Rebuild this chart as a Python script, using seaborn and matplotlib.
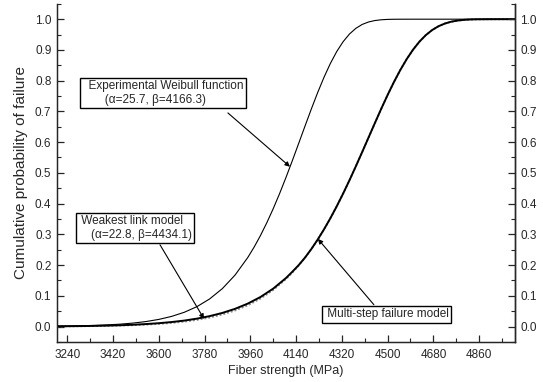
import matplotlib
matplotlib.use("Agg")
import matplotlib.pyplot as plt
import seaborn as sns
import pandas as pd
from matplotlib.ticker import MultipleLocator

# Experimental Weibull function (alpha=25.7, beta=4166.3): strength (MPa) and probability
exp_strength = [3200, 3250, 3300, 3350, 3400, 3450, 3500, 3550, 3600, 3650,
                3700, 3750, 3800, 3850, 3900, 3950, 3975, 4000, 4025, 4050,
                4075, 4100, 4125, 4150, 4175, 4200, 4225, 4250, 4275, 4300,
                4325, 4350, 4375, 4400, 4425, 4450, 4475, 4500, 4525, 4550,
                4600, 4650, 4700, 4750, 4800, 4850, 4900, 4950, 5000]
experimental = [0.0011, 0.0017, 0.0025, 0.0037, 0.0054, 0.0078, 0.0113, 0.0162, 0.0231, 0.0328,
                0.0462, 0.0646, 0.0897, 0.1232, 0.1673, 0.2244, 0.2583, 0.2960, 0.3377, 0.3831,
                0.4321, 0.4843, 0.5389, 0.5951, 0.6518, 0.7077, 0.7613, 0.8112, 0.8561, 0.8948,
                0.9267, 0.9517, 0.9702, 0.9829, 0.9909, 0.9956, 0.9981, 0.9993, 0.9998, 0.9999,
                1.0, 1.0, 1.0, 1.0, 1.0, 1.0, 1.0, 1.0, 1.0]

# Model curves: strength (MPa)
model_strength = [3200, 3250, 3300, 3350, 3400, 3450, 3500, 3550, 3600, 3650,
                  3700, 3750, 3800, 3850, 3900, 3950, 4000, 4050, 4100, 4125,
                  4150, 4175, 4200, 4225, 4250, 4275, 4300, 4325, 4350, 4375,
                  4400, 4425, 4450, 4475, 4500, 4525, 4550, 4575, 4600, 4625,
                  4650, 4675, 4700, 4725, 4750, 4775, 4800, 4825, 4850, 4900,
                  4950, 5000]

# Weakest link model (alpha=22.8, beta=4434.1)
weakest = [0.0006, 0.0008, 0.0012, 0.0017, 0.0023, 0.0033, 0.0045, 0.0063, 0.0086, 0.0118,
           0.0160, 0.0217, 0.0292, 0.0392, 0.0522, 0.0691, 0.0910, 0.1190, 0.1543, 0.1751,
           0.1983, 0.2238, 0.2520, 0.2828, 0.3163, 0.3525, 0.3913, 0.4325, 0.4759, 0.5212,
           0.5677, 0.6149, 0.6621, 0.7086, 0.7534, 0.7957, 0.8348, 0.8700, 0.9008, 0.9268,
           0.9480, 0.9646, 0.9770, 0.9858, 0.9918, 0.9955, 0.9978, 0.9990, 0.9996, 0.9999,
           1.0, 1.0]

# Multi-step failure model
multistep = [0.0008, 0.0011, 0.0015, 0.0021, 0.0030, 0.0042, 0.0058, 0.0080, 0.0108, 0.0145,
             0.0193, 0.0256, 0.0338, 0.0442, 0.0575, 0.0745, 0.0960, 0.1232, 0.1575, 0.1780,
             0.1995, 0.2240, 0.2520, 0.2828, 0.3163, 0.3525, 0.3913, 0.4325, 0.4759, 0.5212,
             0.5677, 0.6149, 0.6621, 0.7086, 0.7534, 0.7957, 0.8348, 0.8700, 0.9008, 0.9268,
             0.9480, 0.9646, 0.9770, 0.9858, 0.9918, 0.9955, 0.9978, 0.9990, 0.9996, 0.9999,
             1.0, 1.0]

x_ticks = [3240, 3420, 3600, 3780, 3960, 4140, 4320, 4500, 4680, 4860]
y_ticks = [0.0, 0.1, 0.2, 0.3, 0.4, 0.5, 0.6, 0.7, 0.8, 0.9, 1.0]

sns.set_style("ticks")
plt.rcParams["font.family"] = ["Liberation Sans", "DejaVu Sans"]

df_exp = pd.DataFrame({"strength": exp_strength, "prob": experimental})
df_mod = pd.DataFrame({"strength": model_strength, "weakest": weakest,
                       "multistep": multistep})

fig = plt.figure(figsize=(5.43, 3.82), dpi=100)
ax = fig.add_axes([0.105, 0.105, 0.843, 0.885])

sns.lineplot(data=df_mod, x="strength", y="weakest", ax=ax, color="#8c8c8c",
             linestyle=(0, (1, 1)), linewidth=1.4, zorder=2)
sns.lineplot(data=df_mod, x="strength", y="multistep", ax=ax, color="black",
             linewidth=1.4, zorder=3)
sns.lineplot(data=df_exp, x="strength", y="prob", ax=ax, color="black",
             linewidth=0.8, zorder=3)

ax.set_xlim(3200, 5000)
ax.set_ylim(-0.05, 1.05)
ax.set_xticks(x_ticks)
ax.set_xticklabels([str(t) for t in x_ticks])
ax.xaxis.set_minor_locator(MultipleLocator(90))
ax.set_yticks(y_ticks)
ax.set_yticklabels([f"{t:.1f}" for t in y_ticks])
ax.yaxis.set_minor_locator(MultipleLocator(0.05))

for sp in ["left", "right", "bottom"]:
    ax.spines[sp].set_linewidth(1.0)
ax.spines["top"].set_visible(False)

ax.tick_params(axis="x", which="major", direction="in", length=5, width=0.9,
               labelsize=8.5, pad=5)
ax.tick_params(axis="y", which="major", direction="in", length=5, width=0.9,
               labelsize=8.5, pad=4)
ax.tick_params(axis="both", which="minor", direction="in", length=3, width=0.8)

ax2 = ax.twinx()
ax2.set_ylim(-0.05, 1.05)
ax2.set_yticks(y_ticks)
ax2.set_yticklabels([f"{t:.1f}" for t in y_ticks])
ax2.yaxis.set_minor_locator(MultipleLocator(0.05))
ax2.tick_params(axis="y", which="major", direction="in", length=5, width=0.9,
                labelsize=8.5, pad=4)
ax2.tick_params(axis="y", which="minor", direction="in", length=3, width=0.8)
ax2.spines["top"].set_visible(False)
ax2.spines["right"].set_linewidth(1.0)

ax.set_xlabel("Fiber strength (MPa)", fontsize=9, labelpad=3)
ax.set_ylabel("Cumulative probability of failure", fontsize=11, labelpad=5)

box = dict(boxstyle="square,pad=0.2", facecolor="white", edgecolor="black", linewidth=1.0)
arrow = dict(arrowstyle="-|>", color="black", linewidth=0.8, mutation_scale=7,
             shrinkA=0, shrinkB=0)

ax.annotate("", xy=(4116, 0.52), xytext=(3872, 0.695), arrowprops=arrow, zorder=4)
ax.text(3300, 0.76, "  Experimental Weibull function\n       (α=25.7, β=4166.3)",
        fontsize=8.5, ha="left", va="center", bbox=box, zorder=5, linespacing=1.2)

ax.annotate("", xy=(3778, 0.025), xytext=(3605, 0.266), arrowprops=arrow, zorder=4)
ax.text(3283, 0.321, " Weakest link model\n    (α=22.8, β=4434.1)",
        fontsize=8.5, ha="left", va="center", bbox=box, zorder=5, linespacing=1.2)

ax.annotate("", xy=(4226, 0.285), xytext=(4446, 0.071), arrowprops=arrow, zorder=4)
ax.text(4250, 0.040, " Multi-step failure model",
        fontsize=8.5, ha="left", va="center", bbox=box, zorder=5)

fig.savefig("out.png", dpi=100)
